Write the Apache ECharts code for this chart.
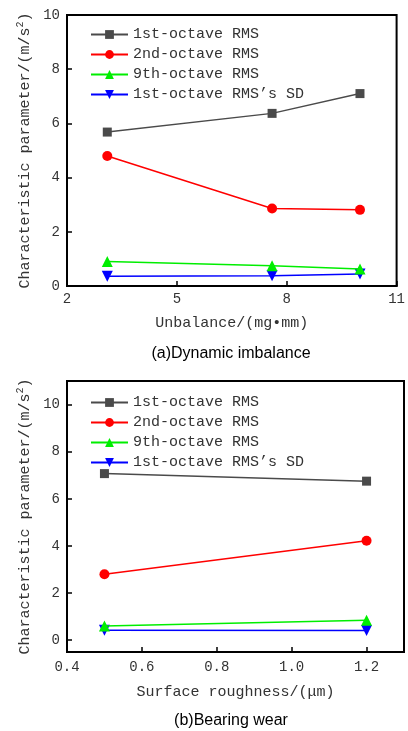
<!DOCTYPE html>
<html><head><meta charset="utf-8">
<script src="https://cdn.jsdelivr.net/npm/echarts@6/dist/echarts.min.js"></script>
<style>html,body{margin:0;padding:0;background:#fff}#c{width:408px;height:731px}</style>
</head><body><div id="c"></div>
<script>
// Chart (a) Dynamic imbalance
const seriesNames = ['1st-octave RMS', '2nd-octave RMS', '9th-octave RMS', '1st-octave RMS\u2019s SD'];
const xA = [3.1, 7.6, 10.0];
const a1st = [5.68, 6.37, 7.1];
const a2nd = [4.8, 2.86, 2.81];
const a9th = [0.9, 0.75, 0.63];
const aSD = [0.36, 0.38, 0.44];
// Chart (b) Bearing wear
const xB = [0.5, 1.2];
const b1st = [7.07, 6.75];
const b2nd = [2.8, 4.22];
const b9th = [0.6, 0.85];
const bSD = [0.42, 0.41];
const yTicksB = [0, 2, 4, 6, 8, 10];

const colors = ['#4a4a4a', '#ff0000', '#00ee00', '#0000ff'];
const symbols = ['rect', 'circle', 'triangle', 'triangle'];
const symRot = [0, 0, 0, 180];
const symSize = [9, 10, 11, 11];
const mono = 'Liberation Mono';

function mkSeries(xs, ys, i, gi) {
  return {
    name: seriesNames[i], type: 'line', xAxisIndex: gi, yAxisIndex: gi,
    data: xs.map((x, k) => [x, ys[k]]),
    symbol: symbols[i], symbolRotate: symRot[i], symbolSize: symSize[i],
    lineStyle: {color: colors[i], width: 1.5},
    itemStyle: {color: colors[i]},
    showAllSymbol: true, animation: false, z: 10 - i
  };
}

const axisCommon = {
  axisLine: {show: true, onZero: false, lineStyle: {color: '#000', width: 2}},
  axisTick: {show: true, inside: true, length: 5, lineStyle: {color: '#000', width: 1.5}},
  splitLine: {show: false},
  axisLabel: {color: '#333', fontFamily: mono, fontSize: 14}
};
const yName = 'Characteristic parameter/(m/s{sup|2})';
const yNameStyle = {color: '#333', fontFamily: mono, fontSize: 15,
  rich: {sup: {fontSize: 10, verticalAlign: 'top', fontFamily: mono, color: '#333', padding: [0,0,8,0]}}};
const legendText = {fontFamily: mono, fontSize: 15, color: '#333', lineHeight: 12};

const option = {
  backgroundColor: '#fff',
  animation: false,
  title: [
    {text: '(a)Dynamic imbalance', left: 226, top: 341, textAlign: 'center',
     textStyle: {fontFamily: 'Liberation Sans', fontSize: 16, fontWeight: 'normal', color: '#000'}},
    {text: '(b)Bearing wear', left: 226, top: 708, textAlign: 'center',
     textStyle: {fontFamily: 'Liberation Sans', fontSize: 16, fontWeight: 'normal', color: '#000'}}
  ],
  legend: [
    {data: seriesNames, orient: 'vertical', left: 85, top: 22, itemWidth: 37, itemHeight: 11, itemGap: 5,
     textStyle: legendText},
    {data: seriesNames, orient: 'vertical', left: 85, top: 390, itemWidth: 37, itemHeight: 11, itemGap: 5,
     textStyle: legendText}
  ],
  grid: [
    {left: 67, right: 4, top: 15, bottom: 445, show: true, borderColor: '#000', borderWidth: 2, containLabel: false},
    {left: 67, right: 4, top: 381, bottom: 79, show: true, borderColor: '#000', borderWidth: 2, containLabel: false}
  ],
  xAxis: [
    Object.assign({}, axisCommon, {gridIndex: 0, type: 'value', min: 2, max: 11, interval: 3,
      name: 'Unbalance/(mg\u2022mm)', nameLocation: 'middle', nameGap: 30,
      nameTextStyle: {color: '#333', fontFamily: mono, fontSize: 15},
      axisLabel: Object.assign({}, axisCommon.axisLabel, {margin: 6})}),
    Object.assign({}, axisCommon, {gridIndex: 1, type: 'value', min: 0.4, max: 1.3, interval: 0.2,
      name: 'Surface roughness/(\u03bcm)', nameLocation: 'middle', nameGap: 33,
      nameTextStyle: {color: '#333', fontFamily: mono, fontSize: 15},
      axisLabel: Object.assign({}, axisCommon.axisLabel, {margin: 8, showMaxLabel: false,
        formatter: v => v.toFixed(1)})})
  ],
  yAxis: [
    Object.assign({}, axisCommon, {gridIndex: 0, type: 'value', min: 0, max: 10, interval: 2,
      name: yName, nameLocation: 'middle', nameGap: 31, nameTextStyle: yNameStyle,
      axisLabel: Object.assign({}, axisCommon.axisLabel, {margin: 7})}),
    Object.assign({}, axisCommon, {gridIndex: 1, type: 'value', min: -0.5, max: 11,
      name: yName, nameLocation: 'middle', nameGap: 31, nameTextStyle: yNameStyle,
      axisTick: Object.assign({}, axisCommon.axisTick, {customValues: yTicksB}),
      axisLabel: Object.assign({}, axisCommon.axisLabel, {margin: 7, customValues: yTicksB})})
  ],
  series: [
    mkSeries(xA, a1st, 0, 0), mkSeries(xA, a2nd, 1, 0), mkSeries(xA, a9th, 2, 0), mkSeries(xA, aSD, 3, 0),
    mkSeries(xB, b1st, 0, 1), mkSeries(xB, b2nd, 1, 1), mkSeries(xB, b9th, 2, 1), mkSeries(xB, bSD, 3, 1)
  ]
};
const chart = echarts.init(document.getElementById('c'), null, {renderer: 'canvas'});
chart.setOption(option);
</script></body></html>
